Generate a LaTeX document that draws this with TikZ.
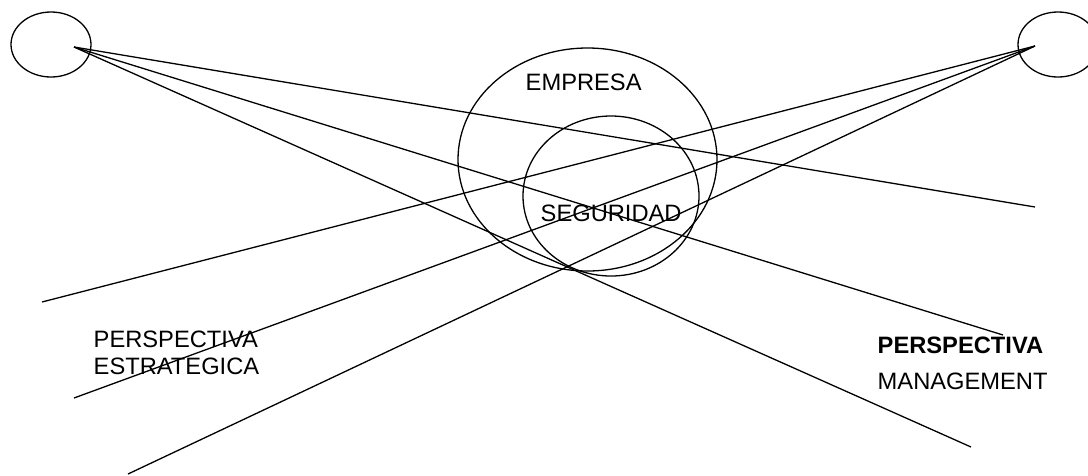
\documentclass[tikz,border=0pt]{standalone}
\usepackage{fontspec}
\setmainfont{Liberation Sans}
\usetikzlibrary{shapes.geometric}
\begin{document}
\begin{tikzpicture}[x=1pt,y=-1pt,
  ring/.style={draw=black,line width=1.3pt,ellipse,inner sep=0pt,outer sep=0pt},
  link/.style={draw=black,line width=1.3pt},
  label/.style={anchor=base west,inner sep=0pt,font=\fontsize{23.7}{27}\selectfont}]
\useasboundingbox (0,0) rectangle (1088,475);
\clip (0,0) rectangle (1088,475);
% small ellipses
\node[ring,minimum width=80pt,minimum height=65pt] (eL) at (51,44.5) {};
\node[ring,minimum width=80pt,minimum height=65pt] (eR) at (1058,44.5) {};
% Venn ellipses
\node[ring,minimum width=259pt,minimum height=223pt] (empresa) at (587.5,159.5) {};
\node[ring,minimum width=176pt,minimum height=160pt] (seguridad) at (611,196) {};
% apexes and free ends
\coordinate (L) at (74,47);
\coordinate (R) at (1035,46);
\coordinate (l1) at (1035,207);
\coordinate (l2) at (1003,335);
\coordinate (l3) at (971,447);
\coordinate (r1) at (42,302);
\coordinate (r2) at (74,398);
\coordinate (r3) at (128,474);
\draw[link] (L) -- (l1);
\draw[link] (L) -- (l2);
\draw[link] (L) -- (l3);
\draw[link] (R) -- (r1);
\draw[link] (R) -- (r2);
\draw[link] (R) -- (r3);
% texts
\node[label] (emp) at (525.5,90) {EMPRESA};
\node[label] (seg) at (540.5,221) {SEGURIDAD};
\node[label] (pe1) at (93.5,347) {PERSPECTIVA};
\node[label] (est) at (93.5,374) {ESTRATEGICA};
\node[label,font=\fontsize{23.7}{27}\selectfont\bfseries] (pe2) at (877.5,353) {PERSPECTIVA};
\node[label] (man) at (877.5,389) {MANAGEMENT};
\end{tikzpicture}
\end{document}
